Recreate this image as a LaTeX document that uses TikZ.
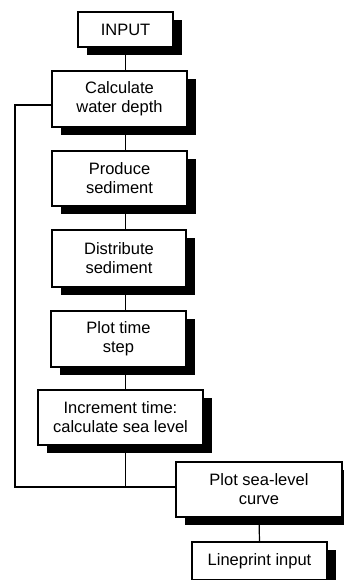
\documentclass[tikz,border=0pt]{standalone}
\usepackage{fontspec}
\setmainfont{Liberation Sans}
\usetikzlibrary{shadows}
\begin{document}
\begin{tikzpicture}[x=1pt,y=-1pt,
  boxstyle/.style={draw, line width=1.3pt, fill=white, align=center, inner sep=0pt,
    font=\fontsize{16.5}{19}\selectfont,
    drop shadow={shadow xshift=9pt, shadow yshift=-8pt, fill=black, opacity=1}},
  link/.style={line width=1.2pt}]
\useasboundingbox (0,0) rectangle (344,580);
\node[boxstyle, minimum width=95pt, minimum height=35pt] (input) at (125.5,29.5) {INPUT};
\node[boxstyle, minimum width=135pt, minimum height=56pt] (calc) at (119.5,99) {Calculate\\water depth};
\node[boxstyle, minimum width=135pt, minimum height=55pt] (prod) at (119.5,178.5) {Produce\\sediment};
\node[boxstyle, minimum width=134pt, minimum height=57pt] (dist) at (119,258.5) {Distribute\\sediment};
\node[boxstyle, minimum width=135pt, minimum height=56pt] (plot) at (118.5,339) {Plot time\\step};
\node[boxstyle, minimum width=165pt, minimum height=55pt] (incr) at (120.5,417.5) {Increment time:\\calculate sea level};
\node[boxstyle, minimum width=166pt, minimum height=55pt] (sea) at (259,489.5) {Plot sea-level\\curve};
\node[boxstyle, minimum width=135pt, minimum height=38pt] (lp) at (259.5,561) {Lineprint input};
\coordinate (j) at (125.5,487);
\coordinate (L) at (15,487);
\draw[link] (input.south) -- (calc.north -| input.south);
\draw[link] (calc.south -| input.south) -- (prod.north -| input.south);
\draw[link] (prod.south -| input.south) -- (dist.north -| input.south);
\draw[link] (dist.south -| input.south) -- (plot.north -| input.south);
\draw[link] (plot.south -| input.south) -- (incr.north -| input.south);
\draw[link] (incr.south -| j) -- (j);
\draw[link] (j -| sea.west) -- (L) |- ([yshift=-6pt]calc.west);
\draw[link] (sea.south) -- (lp.north);
\end{tikzpicture}
\end{document}
